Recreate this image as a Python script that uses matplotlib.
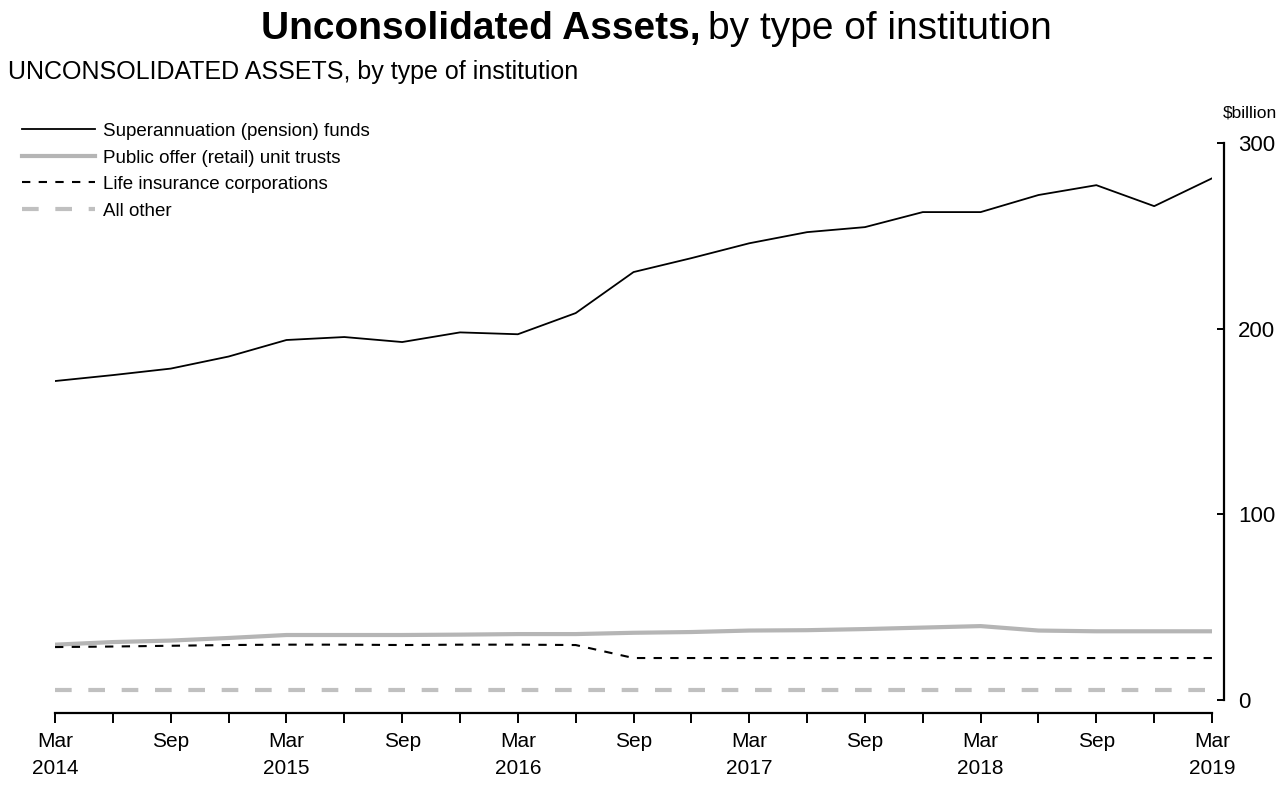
import numpy as np
import matplotlib
matplotlib.use("Agg")
import matplotlib.pyplot as plt

plt.rcParams['font.family'] = ['Liberation Sans', 'DejaVu Sans']

# quarterly, Mar 2014 .. Mar 2019
quarters = ['Mar 2014', 'Jun 2014', 'Sep 2014', 'Dec 2014',
            'Mar 2015', 'Jun 2015', 'Sep 2015', 'Dec 2015',
            'Mar 2016', 'Jun 2016', 'Sep 2016', 'Dec 2016',
            'Mar 2017', 'Jun 2017', 'Sep 2017', 'Dec 2017',
            'Mar 2018', 'Jun 2018', 'Sep 2018', 'Dec 2018',
            'Mar 2019']

super_funds = [171.8, 175.0, 178.5, 185.0, 193.9, 195.5, 192.8, 198.0, 197.0, 208.4,
               230.5, 238.0, 246.0, 252.0, 254.7, 262.8, 262.8, 272.0, 277.3, 266.0,
               281.0]
unit_trusts = [29.8, 31.2, 32.0, 33.4, 35.0, 35.0, 35.0, 35.2, 35.5, 35.5,
               36.2, 36.6, 37.4, 37.6, 38.2, 39.0, 39.8, 37.4, 37.0, 37.0,
               37.0]
life_ins = [28.5, 28.8, 29.2, 29.6, 29.8, 29.8, 29.6, 29.8, 29.8, 29.6,
            22.6, 22.6, 22.6, 22.6, 22.6, 22.6, 22.6, 22.6, 22.6, 22.6,
            22.6]
all_other = [5.4] * 21

series_names = ['Superannuation (pension) funds', 'Public offer (retail) unit trusts',
                'Life insurance corporations', 'All other']

x = np.arange(len(quarters))

fig = plt.figure(figsize=(12.83, 7.85), dpi=100)
ax = fig.add_axes([0.0429, 0.1083, 0.9018, 0.7095])

ax.plot(x, super_funds, color='black', lw=1.3, label=series_names[0])
ax.plot(x, unit_trusts, color='#b5b5b5', lw=3.0, label=series_names[1])
ax.plot(x, life_ins, color='black', lw=1.5, ls=(0, (4, 4)), label=series_names[2])
ax.plot(x, all_other, color='#c0c0c0', lw=3.0, ls=(0, (4, 4)), label=series_names[3])

ax.set_xlim(0, 20)
ax.set_ylim(0, 300)

for s in ['left', 'top']:
    ax.spines[s].set_visible(False)
ax.spines['right'].set_position(('outward', 8.6))
ax.spines['bottom'].set_position(('outward', 9.4))
ax.spines['right'].set_linewidth(1.6)
ax.spines['bottom'].set_linewidth(1.6)

# x ticks: every quarter, labels on Mar/Sep
ax.set_xticks(x)
xlabels = []
for i, q in enumerate(quarters):
    m, y = q.split()
    if m == 'Mar':
        xlabels.append('Mar\n' + y)
    elif m == 'Sep':
        xlabels.append('Sep')
    else:
        xlabels.append('')
ax.set_xticklabels(xlabels, fontsize=15, linespacing=1.5, va='top')
ax.tick_params(axis='x', direction='out', length=7, width=1.4, pad=7)

ax.yaxis.tick_right()
ax.set_yticks([0, 100, 200, 300])
ax.set_yticklabels(['0', '100', '200', '300'], fontsize=16)
ax.tick_params(axis='y', direction='in', length=5, width=1.4, pad=10)
ax.text(1.0095, 1.04, '$billion', transform=ax.transAxes, fontsize=12.5, ha='left', va='bottom')

leg = ax.legend(loc='upper left', bbox_to_anchor=(0.011, 0.853), bbox_transform=fig.transFigure,
                frameon=False, fontsize=13.5, handlelength=3.9, handletextpad=0.45,
                labelspacing=0.5, borderaxespad=0)

fig.text(0.546, 0.963, 'Unconsolidated Assets,', fontsize=28, fontweight='bold', ha='right', va='center')
fig.text(0.552, 0.963, 'by type of institution', fontsize=28, ha='left', va='center')
fig.text(0.006, 0.908, 'UNCONSOLIDATED ASSETS, by type of institution', fontsize=18, ha='left', va='center')

fig.savefig('out.png', dpi=100)
